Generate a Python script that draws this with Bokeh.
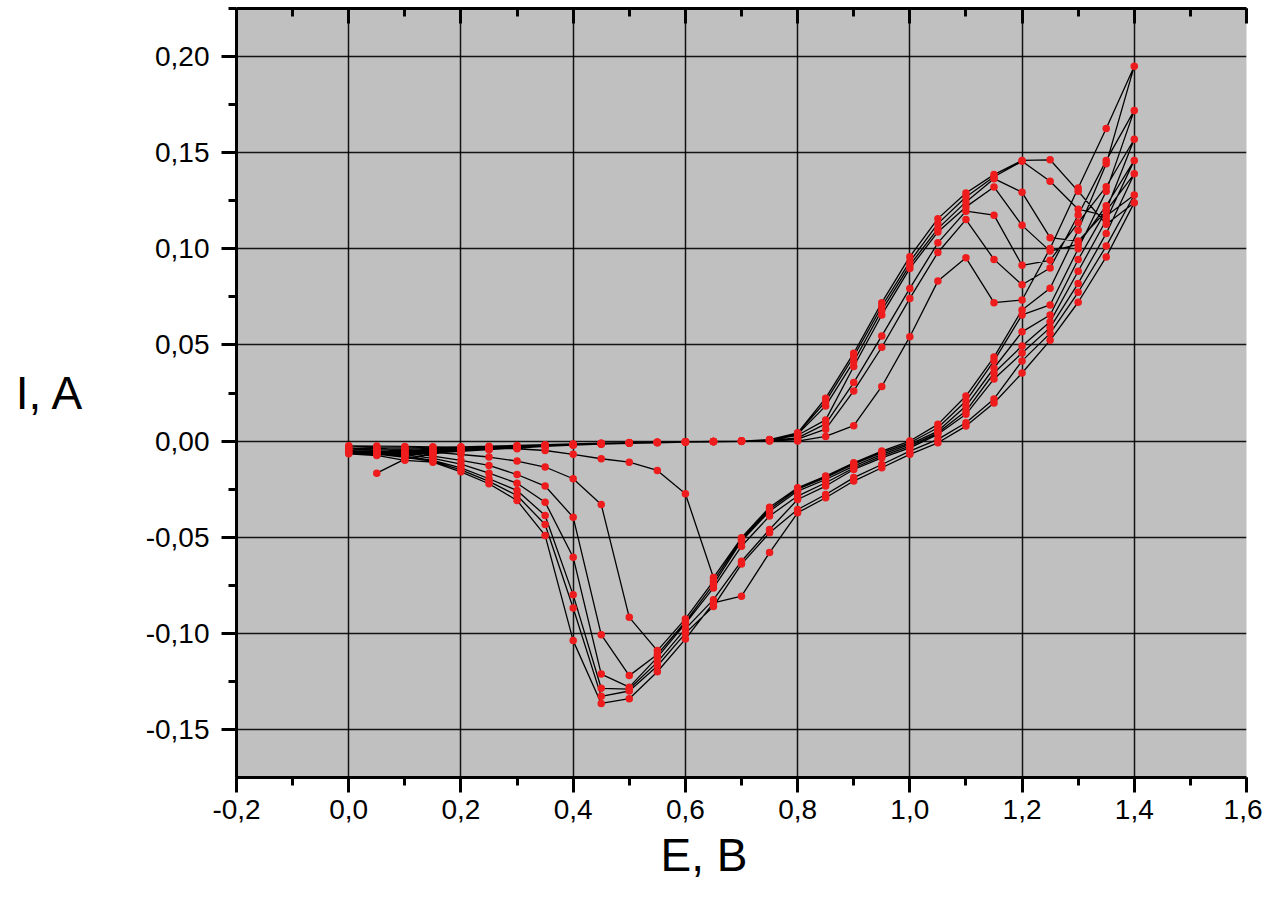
from bokeh.plotting import figure
from bokeh.models import (LinearAxis, SingleIntervalTicker, CustomJSTickFormatter,
                          Title, Range1d)
from bokeh.embed import file_html
from bokeh.resources import INLINE

# Potential grid (V) for the anodic (forward) and cathodic (reverse) sweeps
E_forward = [0.05, 0.10, 0.15, 0.20, 0.25, 0.30, 0.35, 0.40, 0.45, 0.50, 0.55, 0.60, 0.65, 0.70,
             0.75, 0.80, 0.85, 0.90, 0.95, 1.00, 1.05, 1.10, 1.15, 1.20, 1.25, 1.30, 1.35, 1.40]
E_reverse = [1.35, 1.30, 1.25, 1.20, 1.15, 1.10, 1.05, 1.00, 0.95, 0.90, 0.85, 0.80, 0.75, 0.70,
             0.65, 0.60, 0.55, 0.50, 0.45, 0.40, 0.35, 0.30, 0.25, 0.20, 0.15, 0.10, 0.05, 0.00]

# Current (A), forward sweeps, cycles 1..7
I_fwd_1 = [-0.0167, -0.0094, -0.0066, -0.0050, -0.0040, -0.0032, -0.0026, -0.0021, -0.0016, -0.0012, -0.0009, -0.0006, -0.0004, -0.0002,
           0.0000, 0.0000, 0.0024, 0.0080, 0.0284, 0.0543, 0.0832, 0.0953, 0.0720, 0.0734, 0.1002, 0.1316, 0.1626, 0.1950]
I_fwd_2 = [-0.0034, -0.0035, -0.0033, -0.0030, -0.0027, -0.0023, -0.0019, -0.0015, -0.0011, -0.0008, -0.0006, -0.0004, -0.0002, 0.0000,
           0.0002, 0.0010, 0.0062, 0.0261, 0.0488, 0.0742, 0.0981, 0.1152, 0.0945, 0.0813, 0.0900, 0.1176, 0.1460, 0.1720]
I_fwd_3 = [-0.0042, -0.0043, -0.0040, -0.0036, -0.0031, -0.0026, -0.0021, -0.0016, -0.0012, -0.0009, -0.0006, -0.0004, -0.0002, 0.0000,
           0.0004, 0.0017, 0.0089, 0.0304, 0.0547, 0.0794, 0.1031, 0.1196, 0.1175, 0.0914, 0.0940, 0.1136, 0.1323, 0.1570]
I_fwd_4 = [-0.0050, -0.0051, -0.0047, -0.0041, -0.0035, -0.0029, -0.0023, -0.0018, -0.0013, -0.0009, -0.0006, -0.0004, -0.0002, 0.0000,
           0.0005, 0.0030, 0.0110, 0.0388, 0.0656, 0.0898, 0.1088, 0.1218, 0.1322, 0.1122, 0.0988, 0.1023, 0.1224, 0.1460]
I_fwd_5 = [-0.0057, -0.0058, -0.0053, -0.0046, -0.0039, -0.0032, -0.0025, -0.0019, -0.0014, -0.0010, -0.0007, -0.0004, -0.0002, 0.0000,
           0.0006, 0.0035, 0.0183, 0.0414, 0.0680, 0.0915, 0.1105, 0.1244, 0.1365, 0.1294, 0.1058, 0.1040, 0.1197, 0.1390]
I_fwd_6 = [-0.0063, -0.0064, -0.0058, -0.0050, -0.0042, -0.0034, -0.0027, -0.0020, -0.0014, -0.0010, -0.0007, -0.0004, -0.0002, 0.0000,
           0.0007, 0.0040, 0.0206, 0.0440, 0.0700, 0.0933, 0.1131, 0.1270, 0.1375, 0.1455, 0.1351, 0.1206, 0.1171, 0.1280]
I_fwd_7 = [-0.0068, -0.0070, -0.0063, -0.0054, -0.0045, -0.0036, -0.0028, -0.0021, -0.0015, -0.0010, -0.0007, -0.0004, -0.0002, 0.0000,
           0.0008, 0.0043, 0.0223, 0.0457, 0.0720, 0.0959, 0.1157, 0.1290, 0.1386, 0.1460, 0.1463, 0.1300, 0.1128, 0.1240]

# Current (A), reverse sweeps, cycles 1..7
I_rev_1 = [0.1442, 0.1096, 0.0795, 0.0682, 0.0437, 0.0234, 0.0087, 0.0000, -0.0052, -0.0113, -0.0182, -0.0243, -0.0344, -0.0503,
           -0.0710, -0.0274, -0.0153, -0.0110, -0.0092, -0.0069, -0.0049, -0.0040, -0.0035, -0.0032, -0.0030, -0.0028, -0.0026, -0.0025]
I_rev_2 = [0.1300, 0.1000, 0.0708, 0.0656, 0.0417, 0.0208, 0.0069, -0.0009, -0.0060, -0.0120, -0.0190, -0.0250, -0.0355, -0.0510,
           -0.0729, -0.0925, -0.1090, -0.0917, -0.0330, -0.0196, -0.0135, -0.0104, -0.0083, -0.0070, -0.0058, -0.0048, -0.0040, -0.0035]
I_rev_3 = [0.1200, 0.0944, 0.0656, 0.0568, 0.0380, 0.0182, 0.0052, -0.0017, -0.0069, -0.0130, -0.0200, -0.0260, -0.0365, -0.0520,
           -0.0745, -0.0940, -0.1110, -0.1220, -0.1007, -0.0396, -0.0234, -0.0174, -0.0127, -0.0100, -0.0078, -0.0062, -0.0050, -0.0040]
I_rev_4 = [0.1150, 0.0883, 0.0620, 0.0495, 0.0354, 0.0156, 0.0043, -0.0026, -0.0078, -0.0140, -0.0217, -0.0286, -0.0390, -0.0547,
           -0.0764, -0.0950, -0.1125, -0.1280, -0.1212, -0.0604, -0.0318, -0.0219, -0.0167, -0.0120, -0.0090, -0.0070, -0.0056, -0.0048]
I_rev_5 = [0.1080, 0.0820, 0.0590, 0.0458, 0.0323, 0.0139, 0.0035, -0.0035, -0.0087, -0.0148, -0.0234, -0.0304, -0.0460, -0.0625,
           -0.0825, -0.0977, -0.1150, -0.1290, -0.1286, -0.0800, -0.0387, -0.0257, -0.0196, -0.0140, -0.0100, -0.0078, -0.0062, -0.0055]
I_rev_6 = [0.1014, 0.0774, 0.0560, 0.0417, 0.0219, 0.0095, 0.0009, -0.0052, -0.0122, -0.0190, -0.0278, -0.0356, -0.0477, -0.0640,
           -0.0860, -0.1000, -0.1170, -0.1300, -0.1328, -0.0868, -0.0434, -0.0283, -0.0210, -0.0150, -0.0105, -0.0085, -0.0068, -0.0060]
I_rev_7 = [0.0958, 0.0722, 0.0524, 0.0354, 0.0198, 0.0078, -0.0009, -0.0069, -0.0139, -0.0208, -0.0295, -0.0373, -0.0580, -0.0807,
           -0.0842, -0.1030, -0.1200, -0.1340, -0.1365, -0.1038, -0.0491, -0.0309, -0.0222, -0.0160, -0.0110, -0.0100, -0.0075, -0.0066]

forward = [I_fwd_1, I_fwd_2, I_fwd_3, I_fwd_4, I_fwd_5, I_fwd_6, I_fwd_7]
reverse = [I_rev_1, I_rev_2, I_rev_3, I_rev_4, I_rev_5, I_rev_6, I_rev_7]

E_all, I_all = [], []
for f, r in zip(forward, reverse):
    E_all += E_forward
    I_all += f
    E_all += E_reverse
    I_all += r

FONT = "Liberation Sans"

p = figure(width=1262, height=888,
           x_range=Range1d(-0.2, 1.6), y_range=Range1d(-0.175, 0.225),
           output_backend="svg", toolbar_location=None,
           min_border_left=236, min_border_right=16, min_border_top=8, min_border_bottom=111)
p.background_fill_color = "#C0C0C0"
p.border_fill_color = "white"
p.outline_line_color = None

xt = SingleIntervalTicker(interval=0.2, num_minor_ticks=2)
yt = SingleIntervalTicker(interval=0.05, num_minor_ticks=2)

xa = p.xaxis[0]
xa.ticker = xt
xa.formatter = CustomJSTickFormatter(code="return tick.toFixed(1).replace('.', ',');")
ya = p.yaxis[0]
ya.ticker = yt
ya.formatter = CustomJSTickFormatter(code="return tick.toFixed(2).replace('.', ',');")

for ax in (xa, ya):
    ax.axis_line_width = 3
    ax.axis_line_color = "black"
    ax.major_tick_line_width = 3
    ax.minor_tick_line_width = 3
    ax.major_tick_out = 15
    ax.major_tick_in = 0
    ax.minor_tick_out = 8
    ax.minor_tick_in = 0
    ax.major_label_text_font = FONT
    ax.major_label_text_font_size = "28px"
    ax.major_label_text_color = "black"
xa.major_label_standoff = 7
ya.major_label_standoff = 12

# vertical-axis title, written horizontally to the left of the tick labels
ya.axis_label = "I, A"
ya.axis_label_orientation = "horizontal"
ya.axis_label_text_font = FONT
ya.axis_label_text_font_size = "46px"
ya.axis_label_text_font_style = "normal"
ya.axis_label_text_color = "black"
ya.axis_label_standoff = 58

# top frame edge: a tick-only axis (inward ticks, no labels)
top = LinearAxis(ticker=SingleIntervalTicker(interval=0.2, num_minor_ticks=2),
                 major_label_text_font_size="1px", major_label_text_color=None,
                 major_label_standoff=0,
                 major_tick_in=15, major_tick_out=0, minor_tick_in=8, minor_tick_out=0,
                 axis_line_width=3, major_tick_line_width=3, minor_tick_line_width=3)
p.add_layout(top, "above")

p.xgrid.ticker = xt
p.ygrid.ticker = yt
p.grid.grid_line_color = "black"
p.grid.grid_line_width = 1.5
p.grid.grid_line_alpha = 0.9

p.line(E_all, I_all, line_color="black", line_width=1.3)
p.scatter(E_all, I_all, size=7.5, fill_color="#EE1C1C", line_color=None)

# horizontal-axis title, placed below the tick labels, slightly left of centre
p.add_layout(Title(text="E, B", align="left", offset=424, standoff=10,
                   text_font=FONT, text_font_size="46px", text_font_style="normal",
                   text_color="black"), "below")

open("out.html", "w").write(file_html(p, INLINE))
